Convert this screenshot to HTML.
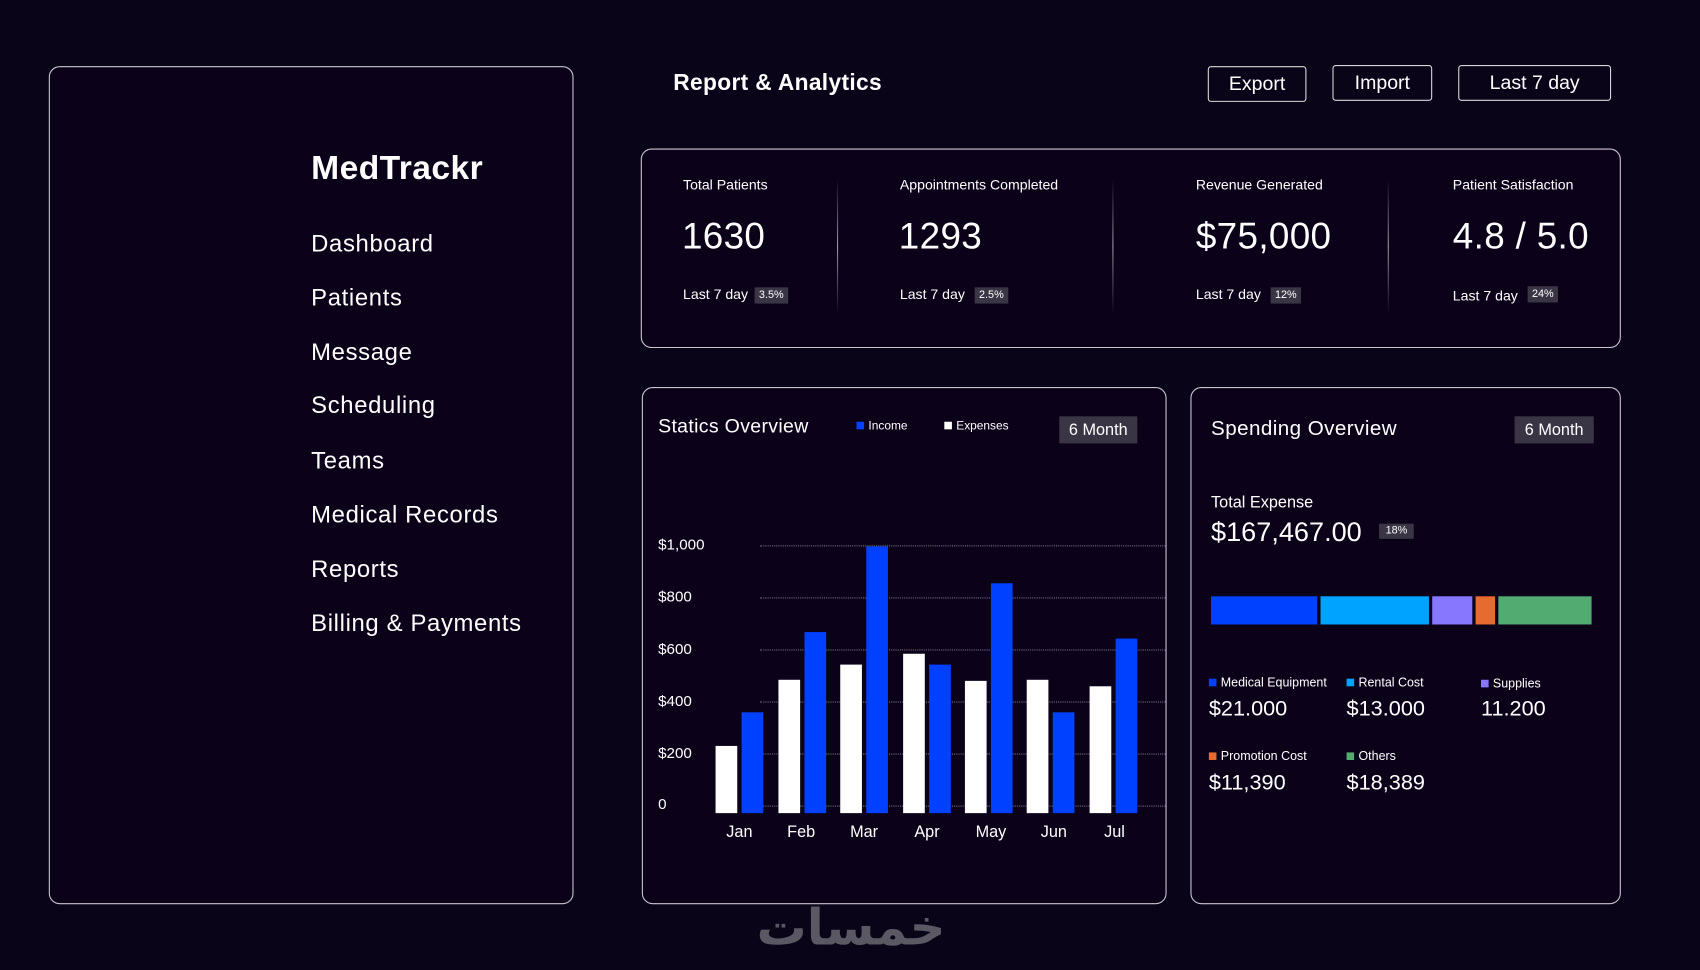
<!DOCTYPE html>
<html><head><meta charset="utf-8">
<style>
*{margin:0;padding:0;box-sizing:border-box}
html,body{width:1700px;height:970px;overflow:hidden;background:#0a0418}
body{font-family:"Liberation Sans",sans-serif;color:#fff}
#w{position:absolute;left:0;top:0;width:1568px;height:895px;transform:scale(1.08418);transform-origin:0 0;background:#0a0418}
.a{position:absolute;white-space:nowrap}
.card{position:absolute;border:1px solid #c9c6d0;border-radius:10px;background:#0b0219}
.btn{position:absolute;border:1px solid #d8d8d8;border-radius:3px;font-size:18px;text-align:center;line-height:30px}
.menu{font-size:22px;left:287px;letter-spacing:0.6px}
.lbl{font-size:13px;top:163px}
.val{font-size:34px;top:199px;letter-spacing:0.3px}
.l7{font-size:13px;top:264px}
.bd{display:inline-block;background:#3a3545;font-size:10px;padding:2px 4px;margin-left:6px;vertical-align:1px}
.div{position:absolute;top:165px;width:1px;height:125px;background:linear-gradient(#0b0219,#9a98a0,#0b0219)}
.grid{position:absolute;left:701px;width:374px;border-top:1px dotted #77737f}
.yl{position:absolute;left:607px;font-size:14px}
.bar{position:absolute;width:20px;bottom:145px}
.w{background:#fff}.b{background:#0040ff}
.ml{position:absolute;top:759px;font-size:15px;width:40px;text-align:center}
.m6{position:absolute;background:#3a3545;font-size:15px;text-align:center;line-height:25px;height:25px}
.sq{display:inline-block;width:7px;height:7px;margin-right:4px}
.ll{position:absolute;font-size:11.5px}
.lv{position:absolute;font-size:20px}
</style></head><body><div id="w">
<div class="card" style="left:45px;top:61px;width:484px;height:773px"></div>
<div class="a" style="left:287px;top:137px;font-size:31px;font-weight:bold;letter-spacing:0.4px">MedTrackr</div>
<div class="a menu" style="top:212px">Dashboard</div>
<div class="a menu" style="top:262px">Patients</div>
<div class="a menu" style="top:312px">Message</div>
<div class="a menu" style="top:361px">Scheduling</div>
<div class="a menu" style="top:412px">Teams</div>
<div class="a menu" style="top:462px">Medical Records</div>
<div class="a menu" style="top:512px">Reports</div>
<div class="a menu" style="top:562px">Billing &amp; Payments</div>

<div class="a" style="left:621px;top:65px;font-size:21px;font-weight:bold;letter-spacing:0.3px">Report &amp; Analytics</div>
<div class="btn" style="left:1114px;top:61px;width:91px;height:33px">Export</div>
<div class="btn" style="left:1229px;top:60px;width:92px;height:33px">Import</div>
<div class="btn" style="left:1345px;top:60px;width:141px;height:33px">Last 7 day</div>

<div class="card" style="left:591px;top:137px;width:904px;height:184px"></div>
<div class="a lbl" style="left:630px">Total Patients</div>
<div class="a lbl" style="left:830px">Appointments Completed</div>
<div class="a lbl" style="left:1103px">Revenue Generated</div>
<div class="a lbl" style="left:1340px">Patient Satisfaction</div>
<div class="a val" style="left:629px">1630</div>
<div class="a val" style="left:829px">1293</div>
<div class="a val" style="left:1103px">$75,000</div>
<div class="a val" style="left:1340px">4.8 / 5.0</div>
<div class="a l7" style="left:630px">Last 7 day<span class="bd">3.5%</span></div>
<div class="a l7" style="left:830px">Last 7 day<span class="bd" style="margin-left:9px">2.5%</span></div>
<div class="a l7" style="left:1103px">Last 7 day<span class="bd" style="margin-left:9px">12%</span></div>
<div class="a l7" style="left:1340px">Last 7 day<span class="bd" style="margin-left:9px;vertical-align:3px">24%</span></div>
<div class="div" style="left:772px"></div>
<div class="div" style="left:1026px"></div>
<div class="div" style="left:1280px"></div>

<div class="card" style="left:592px;top:357px;width:484px;height:477px"></div>
<div class="a" style="left:607px;top:383px;font-size:18px;letter-spacing:0.3px">Statics Overview</div>
<div class="a" style="left:790px;top:387px;font-size:11px"><span class="sq" style="background:#0040ff"></span>Income</div>
<div class="a" style="left:871px;top:387px;font-size:11px"><span class="sq" style="background:#fff"></span>Expenses</div>
<div class="m6" style="left:977px;top:384px;width:72px">6 Month</div>
<div class="grid" style="top:503px"></div><div class="yl" style="top:494px">$1,000</div>
<div class="grid" style="top:551px"></div><div class="yl" style="top:542px">$800</div>
<div class="grid" style="top:599px"></div><div class="yl" style="top:590px">$600</div>
<div class="grid" style="top:647px"></div><div class="yl" style="top:638px">$400</div>
<div class="grid" style="top:695px"></div><div class="yl" style="top:686px">$200</div>
<div class="grid" style="top:743px"></div><div class="yl" style="top:733px">0</div>
<div class="bar w" style="left:660px;height:62px"></div><div class="bar b" style="left:684px;height:93px"></div>
<div class="bar w" style="left:718px;height:123px"></div><div class="bar b" style="left:742px;height:167px"></div>
<div class="bar w" style="left:775px;height:137px"></div><div class="bar b" style="left:799px;height:246px"></div>
<div class="bar w" style="left:833px;height:147px"></div><div class="bar b" style="left:857px;height:137px"></div>
<div class="bar w" style="left:890px;height:122px"></div><div class="bar b" style="left:914px;height:212px"></div>
<div class="bar w" style="left:947px;height:123px"></div><div class="bar b" style="left:971px;height:93px"></div>
<div class="bar w" style="left:1005px;height:117px"></div><div class="bar b" style="left:1029px;height:161px"></div>
<div class="ml" style="left:662px">Jan</div><div class="ml" style="left:719px">Feb</div><div class="ml" style="left:777px">Mar</div>
<div class="ml" style="left:835px">Apr</div><div class="ml" style="left:894px">May</div><div class="ml" style="left:952px">Jun</div><div class="ml" style="left:1008px">Jul</div>

<div class="card" style="left:1098px;top:357px;width:397px;height:477px"></div>
<div class="a" style="left:1117px;top:385px;font-size:19px;letter-spacing:0.4px">Spending Overview</div>
<div class="m6" style="left:1397px;top:384px;width:73px">6 Month</div>
<div class="a" style="left:1117px;top:455px;font-size:15px">Total Expense</div>
<div class="a" style="left:1117px;top:477px;font-size:25px">$167,467.00</div>
<div class="a" style="left:1272px;top:483px;width:32px;height:14px;background:#3a3545;font-size:10px;text-align:center;line-height:14px">18%</div>
<div class="a" style="left:1117px;top:550px;width:98px;height:26px;background:#0040ff"></div>
<div class="a" style="left:1218px;top:550px;width:100px;height:26px;background:#00a3ff"></div>
<div class="a" style="left:1321px;top:550px;width:37px;height:26px;background:#8777ff"></div>
<div class="a" style="left:1361px;top:550px;width:18px;height:26px;background:#e76a2e"></div>
<div class="a" style="left:1382px;top:550px;width:86px;height:26px;background:#52ab71"></div>
<div class="ll" style="left:1115px;top:624px"><span class="sq" style="background:#0040ff"></span>Medical Equipment</div>
<div class="ll" style="left:1242px;top:624px"><span class="sq" style="background:#00a3ff"></span>Rental Cost</div>
<div class="ll" style="left:1366px;top:625px"><span class="sq" style="background:#8777ff"></span>Supplies</div>
<div class="lv" style="left:1115px;top:643px">$21.000</div>
<div class="lv" style="left:1242px;top:643px">$13.000</div>
<div class="lv" style="left:1366px;top:643px">11.200</div>
<div class="ll" style="left:1115px;top:692px"><span class="sq" style="background:#e76a2e"></span>Promotion Cost</div>
<div class="ll" style="left:1242px;top:692px"><span class="sq" style="background:#52ab71"></span>Others</div>
<div class="lv" style="left:1115px;top:711px">$11,390</div>
<div class="lv" style="left:1242px;top:711px">$18,389</div>

<div class="a" style="left:690px;top:828px;width:190px;text-align:center;font-family:'DejaVu Sans',sans-serif;font-size:46px;color:#5a5862;font-weight:bold">خمسات</div>
</div></body></html>
